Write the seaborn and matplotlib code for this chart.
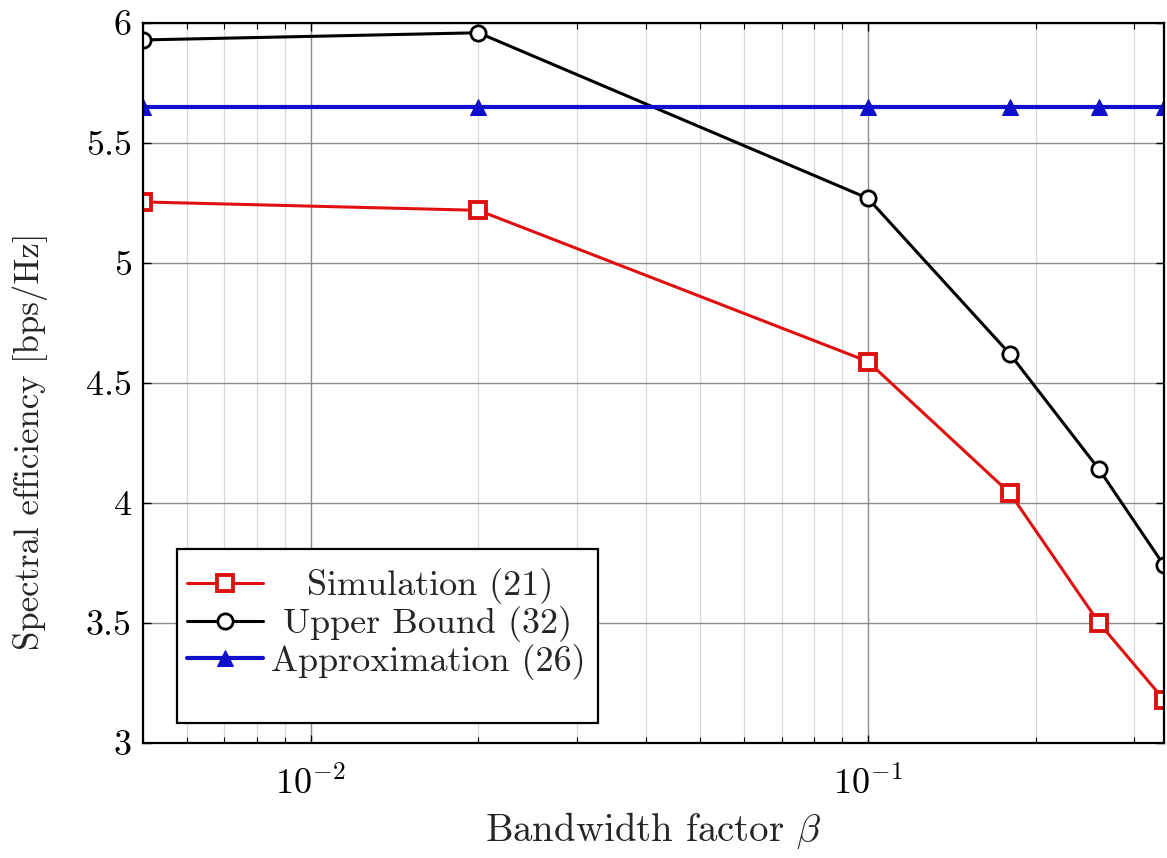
import seaborn as sns
import numpy as np
import pandas as pd
import matplotlib
matplotlib.use("Agg")
import matplotlib.pyplot as plt
from matplotlib.patches import Rectangle
from matplotlib.ticker import FixedLocator, FuncFormatter, LogLocator, NullFormatter

sns.set_theme(style="ticks")
plt.rcParams['font.family'] = ['cmr10', 'DejaVu Serif']
plt.rcParams['mathtext.fontset'] = 'cm'
plt.rcParams['axes.formatter.use_mathtext'] = True

# bandwidth factor beta
beta = [0.005, 0.02, 0.1, 0.18, 0.26, 0.34]
# spectral efficiency [bps/Hz]
simulation = [5.255, 5.22, 4.59, 4.04, 3.50, 3.18]
upper_bound = [5.93, 5.96, 5.27, 4.62, 4.14, 3.74]
approximation = [5.65, 5.65, 5.65, 5.65, 5.65, 5.65]

df = pd.DataFrame({
  'beta': beta,
  'sim': simulation,
  'ub': upper_bound,
  'approx': approximation
})

fig = plt.figure(figsize=(11.67, 8.58), dpi=100)
ax = fig.add_axes([0.1225, 0.134, 0.875, 0.839])

# leading spaces roughly centre the labels like the original legend
sns.lineplot(data=df, x='beta', y='sim', ax=ax, color='#e01010', lw=2.2,
             marker='s', ms=12, mfc='white', mec='#e01010', mew=2.8,
             label='   Simulation (21)')
sns.lineplot(data=df, x='beta', y='ub', ax=ax, color='black', lw=2.2,
             marker='o', ms=11, mfc='white', mec='black', mew=2.0,
             label=' Upper Bound (32)')
sns.lineplot(data=df, x='beta', y='approx', ax=ax, color='#1010cc', lw=3.0,
             marker='^', ms=11, mfc='#1010cc', mec='#1010cc',
             label='Approximation (26)')

ax.set_xscale('log')
ax.set_xlim(beta[0], beta[-1])
ax.set_ylim(3, 6)
ax.yaxis.set_major_locator(FixedLocator(np.arange(3, 6.01, 0.5)))
ax.yaxis.set_major_formatter(FuncFormatter(lambda v, p: '%g' % v))
ax.xaxis.set_minor_locator(LogLocator(base=10, subs=np.arange(2, 10)))
ax.xaxis.set_minor_formatter(NullFormatter())

ax.grid(which='major', color='#8c8c8c', lw=1.0)
ax.grid(which='minor', axis='x', color='#d8d8d8', lw=0.9)

ax.tick_params(which='both', direction='in', top=True, right=True,
               labelsize=26, colors='black')
ax.tick_params(axis='x', which='major', pad=16)
ax.tick_params(axis='y', which='major', pad=8)
ax.tick_params(which='major', length=6, width=1.0)
ax.tick_params(which='minor', length=4, width=0.8)
for s in ax.spines.values():
  s.set_color('black')
  s.set_linewidth(1.6)

ax.set_xlabel(r'Bandwidth factor $\beta$', fontsize=28, labelpad=7)
ax.set_ylabel('Spectral efficiency [bps/Hz]', fontsize=25)
ax.yaxis.set_label_coords(-0.093, 0.419)

# legend frame drawn separately so its padding can match the original box
ax.add_patch(Rectangle((0.0333, 0.0278), 0.412, 0.2417, transform=ax.transAxes,
                       facecolor='white', edgecolor='black', lw=1.6, zorder=4.5))
leg = ax.legend(loc='center left', bbox_to_anchor=(0.043, 0.165), fontsize=26,
                frameon=False, handlelength=2.1, handletextpad=0.22,
                borderpad=0, labelspacing=0.05, borderaxespad=0)

fig.savefig('out.png', dpi=100)
